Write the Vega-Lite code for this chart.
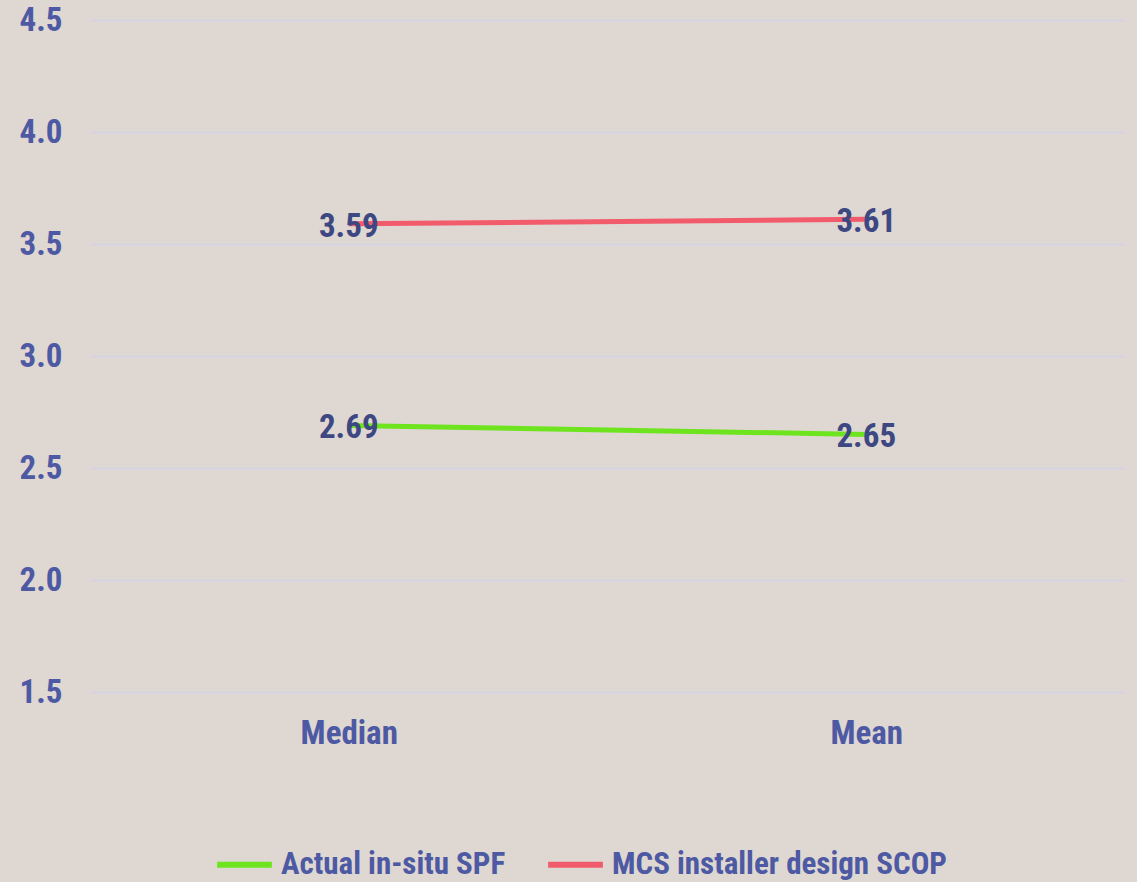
{
  "$schema": "https://vega.github.io/schema/vega-lite/v6.json",
  "width": 1035,
  "height": 672,
  "autosize": {"type": "none"},
  "padding": {"left": 90, "top": 20, "right": 12, "bottom": 190},
  "background": "#ded7d2",
  "config": {
    "view": {"stroke": null},
    "font": "Liberation Sans Narrow, Roboto Condensed, Roboto, sans-serif"
  },
  "data": {
    "values": [
      {"stat": "Median", "series": "Actual in-situ SPF", "value": 2.69},
      {"stat": "Mean", "series": "Actual in-situ SPF", "value": 2.65},
      {"stat": "Median", "series": "MCS installer design SCOP", "value": 3.59},
      {"stat": "Mean", "series": "MCS installer design SCOP", "value": 3.61}
    ]
  },
  "encoding": {
    "x": {
      "field": "stat",
      "type": "nominal",
      "sort": ["Median", "Mean"],
      "scale": {"type": "point", "padding": 0.5},
      "axis": {
        "title": null,
        "domain": false,
        "ticks": false,
        "labelAngle": 0,
        "labelFontSize": 33,
        "labelFontWeight": "bold",
        "labelColor": "#4d5aa3",
        "labelPadding": 25
      }
    },
    "y": {
      "field": "value",
      "type": "quantitative",
      "scale": {"domain": [1.5, 4.5], "nice": false, "zero": false},
      "axis": {
        "title": null,
        "values": [1.5, 2.0, 2.5, 3.0, 3.5, 4.0, 4.5],
        "format": ".1f",
        "domain": false,
        "ticks": false,
        "labelFontSize": 33,
        "labelFontWeight": "bold",
        "labelColor": "#4d5aa3",
        "labelPadding": 28,
        "gridColor": "#d3d3e4",
        "gridWidth": 2
      }
    }
  },
  "layer": [
    {
      "mark": {"type": "line", "strokeWidth": 5},
      "encoding": {
        "color": {
          "field": "series",
          "type": "nominal",
          "scale": {
            "domain": ["Actual in-situ SPF", "MCS installer design SCOP"],
            "range": ["#6ee41f", "#f25b6b"]
          },
          "legend": {
            "title": null,
            "orient": "none",
            "direction": "horizontal",
            "legendX": 124,
            "legendY": 814,
            "symbolType": "stroke",
            "symbolSize": 3000,
            "symbolStrokeWidth": 6,
            "labelFontSize": 31,
            "labelFontWeight": "bold",
            "labelColor": "#4d5aa3",
            "labelOffset": 6,
            "columnPadding": 30,
            "labelLimit": 500
          }
        }
      }
    },
    {
      "mark": {
        "type": "text",
        "fontSize": 33,
        "fontWeight": "bold",
        "color": "#3d4782",
        "align": "center",
        "baseline": "middle",
        "dy": 3
      },
      "encoding": {
        "text": {"field": "value", "type": "quantitative", "format": ".2f"}
      }
    }
  ]
}
